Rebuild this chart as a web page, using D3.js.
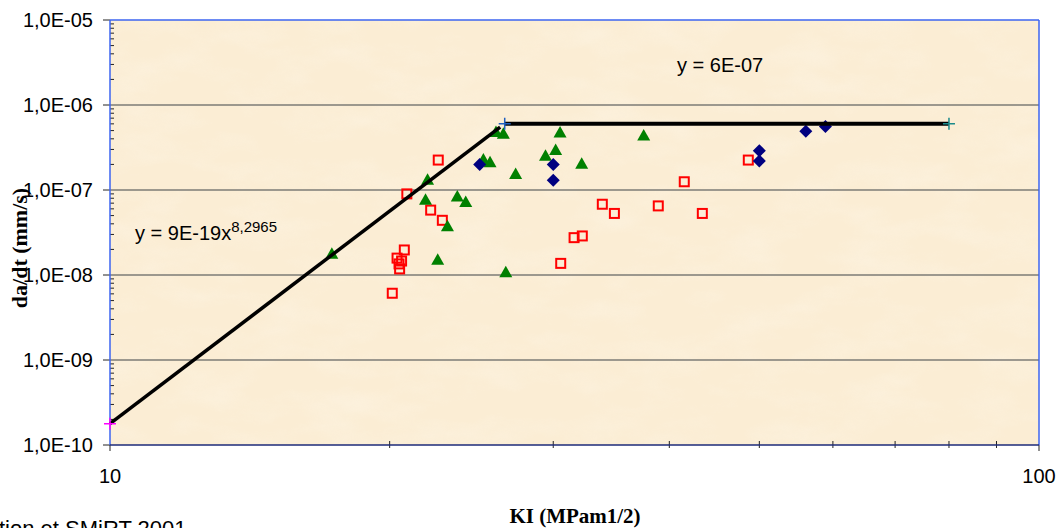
<!DOCTYPE html>
<html>
<head>
<meta charset="utf-8">
<script src="https://cdn.jsdelivr.net/npm/d3@7"></script>
<style>
  html, body { margin: 0; padding: 0; background: #fff; }
  #chart { width: 1058px; height: 528px; overflow: hidden; }
</style>
</head>
<body>
<div id="chart"></div>
<script>
// Data
const blueK    = [25.0, 30.0, 30.0, 50.0, 50.0, 56.1, 58.9];
const blueRate = [2.0e-7, 2.0e-7, 1.3e-7, 2.9e-7, 2.2e-7, 4.9e-7, 5.6e-7];

const redK    = [22.56, 20.87, 22.14, 22.79, 20.74, 20.37, 20.6, 20.47, 20.5, 20.13,
                 30.56, 31.59, 32.24, 33.88, 34.91, 38.92, 41.51, 43.41, 48.65];
const redRate = [2.25e-7, 9.0e-8, 5.8e-8, 4.4e-8, 1.97e-8, 1.58e-8, 1.46e-8, 1.35e-8, 1.18e-8, 6.1e-9,
                 1.37e-8, 2.75e-8, 2.88e-8, 6.8e-8, 5.3e-8, 6.5e-8, 1.25e-7, 5.3e-8, 2.25e-7];

const greenK    = [17.33, 21.97, 21.86, 23.65, 24.15, 23.08, 22.53, 26.67, 25.23,
                   25.65, 26.03, 26.51, 27.33, 29.43, 30.18, 30.51, 32.19, 37.54];
const greenRate = [1.8e-8, 1.34e-7, 7.8e-8, 8.5e-8, 7.3e-8, 3.8e-8, 1.53e-8, 1.09e-8, 2.32e-7,
                   2.15e-7, 4.88e-7, 4.65e-7, 1.56e-7, 2.56e-7, 3.0e-7, 4.8e-7, 2.06e-7, 4.44e-7];

// trend lines: power fit and plateau
const fitK = [10, 26.3];
const fitRate = [1.78e-10, 5.5e-7];
const plateauK = [26.6, 80];
const plateauRate = [6e-7, 6e-7];

const xTickVals = [10, 100];
const xTickLabels = ["10", "100"];
const yTickVals = [1e-10, 1e-9, 1e-8, 1e-7, 1e-6, 1e-5];
const yTickLabels = ["1,0E-10", "1,0E-09", "1,0E-08", "1,0E-07", "1,0E-06", "1,0E-05"];

// Set up dimensions
const W = 1058, H = 528;
const margin = { top: 20, right: 19, bottom: 83, left: 110 };
const width = W - margin.left - margin.right;
const height = H - margin.top - margin.bottom;

const svg = d3.select("#chart")
    .append("svg")
    .attr("width", W)
    .attr("height", H);

// paper texture filter
const defs = svg.append("defs");
const f = defs.append("filter").attr("id", "paper")
    .attr("x", 0).attr("y", 0).attr("width", 1).attr("height", 1);
f.append("feTurbulence")
    .attr("type", "fractalNoise")
    .attr("baseFrequency", "0.015 0.035")
    .attr("numOctaves", 4)
    .attr("seed", 7);
f.append("feColorMatrix")
    .attr("type", "matrix")
    .attr("values", "0 0 0 0 1  0 0 0 0 0.98  0 0 0 0 0.93  1.4 0 0 0 -0.6");

const g = svg.append("g")
    .attr("transform", `translate(${margin.left},${margin.top})`);

// Scales
const x = d3.scaleLog().domain([10, 100]).range([0, width]);
const y = d3.scaleLog().domain([1e-10, 1e-5]).range([height, 0]);

// plot background
g.append("rect")
    .attr("width", width).attr("height", height)
    .attr("fill", "#fbedd4");
g.append("rect")
    .attr("width", width).attr("height", height)
    .attr("filter", "url(#paper)")
    .attr("opacity", 0.35);

// horizontal gridlines
g.selectAll(".grid")
    .data(yTickVals.slice(1, -1))
    .join("line")
    .attr("x1", 0).attr("x2", width)
    .attr("y1", d => y(d)).attr("y2", d => y(d))
    .attr("stroke", "#7d7b76")
    .attr("stroke-width", 1.3);

// plot border (top / right)
g.append("line").attr("x1", 0).attr("x2", width).attr("y1", 0).attr("y2", 0)
    .attr("stroke", "#3c64f0").attr("stroke-width", 1.5);
g.append("line").attr("x1", width).attr("x2", width).attr("y1", 0).attr("y2", height)
    .attr("stroke", "#3c64f0").attr("stroke-width", 1.5);

// Y axis: minor ticks inside, major ticks outside
g.selectAll(".yminor")
    .data(y.ticks().filter(d => !yTickVals.some(v => Math.abs(v - d) / v < 1e-6)))
    .join("line")
    .attr("x1", 0).attr("x2", 4)
    .attr("y1", d => y(d)).attr("y2", d => y(d))
    .attr("stroke", "#222").attr("stroke-width", 1);
g.selectAll(".ymajor")
    .data(yTickVals)
    .join("line")
    .attr("x1", -7).attr("x2", 0)
    .attr("y1", d => y(d)).attr("y2", d => y(d))
    .attr("stroke", "#222").attr("stroke-width", 1);
g.append("line").attr("x1", 0).attr("x2", 0).attr("y1", 0).attr("y2", height)
    .attr("stroke", "#3c64f0").attr("stroke-width", 1.5);
g.selectAll(".ylab")
    .data(yTickVals)
    .join("text")
    .attr("x", -17)
    .attr("y", d => y(d) + 7)
    .attr("text-anchor", "end")
    .style("font-family", "'Liberation Sans', Arial, sans-serif")
    .style("font-size", "20px")
    .style("fill", "#000")
    .text((d, i) => yTickLabels[i]);

// X axis
g.selectAll(".xminor")
    .data(x.ticks().filter(d => !xTickVals.includes(d)))
    .join("line")
    .attr("x1", d => x(d)).attr("x2", d => x(d))
    .attr("y1", height - 4).attr("y2", height + 3)
    .attr("stroke", "#222").attr("stroke-width", 1);
g.selectAll(".xmajor")
    .data(xTickVals)
    .join("line")
    .attr("x1", d => x(d)).attr("x2", d => x(d))
    .attr("y1", height).attr("y2", height + 6)
    .attr("stroke", "#222").attr("stroke-width", 1);
g.append("line").attr("x1", 0).attr("x2", width).attr("y1", height).attr("y2", height)
    .attr("stroke", "#1c2a78").attr("stroke-width", 1.5);
g.selectAll(".xlab")
    .data(xTickVals)
    .join("text")
    .attr("x", d => x(d))
    .attr("y", height + 38)
    .attr("text-anchor", "middle")
    .style("font-family", "'Liberation Sans', Arial, sans-serif")
    .style("font-size", "20px")
    .text((d, i) => xTickLabels[i]);

// markers
const red = redK.map((k, i) => ({ k, r: redRate[i] }));
g.selectAll(".sq")
    .data(red)
    .join("rect")
    .attr("x", d => x(d.k) - 4.5)
    .attr("y", d => y(d.r) - 4.5)
    .attr("width", 9).attr("height", 9)
    .attr("fill", "none")
    .attr("stroke", "#ff0000")
    .attr("stroke-width", 2);

const green = greenK.map((k, i) => ({ k, r: greenRate[i] }));
g.selectAll(".tri")
    .data(green)
    .join("path")
    .attr("transform", d => `translate(${x(d.k)},${y(d.r)})`)
    .attr("d", "M0,-6L6.5,5.5L-6.5,5.5Z")
    .attr("fill", "#008000");

const blue = blueK.map((k, i) => ({ k, r: blueRate[i] }));
g.selectAll(".dia")
    .data(blue)
    .join("path")
    .attr("transform", d => `translate(${x(d.k)},${y(d.r)})`)
    .attr("d", "M0,-6.5L6.5,0L0,6.5L-6.5,0Z")
    .attr("fill", "#000080");

// trend lines
const line = d3.line().x(d => x(d[0])).y(d => y(d[1]));
g.append("path")
    .attr("d", line(fitK.map((k, i) => [k, fitRate[i]])))
    .attr("fill", "none")
    .attr("stroke", "#000")
    .attr("stroke-width", 3.5);
g.append("path")
    .attr("d", line(plateauK.map((k, i) => [k, plateauRate[i]])))
    .attr("fill", "none")
    .attr("stroke", "#000")
    .attr("stroke-width", 4);

// end markers of the trend series
function plus(px, py, color) {
    g.append("path")
        .attr("d", `M${px - 6},${py}H${px + 6}M${px},${py - 6}V${py + 6}`)
        .attr("stroke", color)
        .attr("stroke-width", 1.5);
}
plus(x(fitK[0]), y(fitRate[0]), "#ff00ff");
plus(x(plateauK[0]), y(plateauRate[0]), "#1f5fc0");
plus(x(plateauK[1]), y(plateauRate[1]), "#1a8a8a");

// equations
g.append("text")
    .attr("x", 567)
    .attr("y", 52)
    .style("font-family", "'Liberation Sans', Arial, sans-serif")
    .style("font-size", "20px")
    .text("y = 6E-07");

const eq = g.append("text")
    .attr("x", 25)
    .attr("y", 220)
    .style("font-family", "'Liberation Sans', Arial, sans-serif")
    .style("font-size", "20px");
eq.append("tspan").text("y = 9E-19x");
eq.append("tspan").attr("dy", -8).style("font-size", "15px").text("8,2965");

// axis titles
svg.append("text")
    .attr("x", 575)
    .attr("y", 523)
    .attr("text-anchor", "middle")
    .style("font-family", "'Liberation Serif', 'Times New Roman', serif")
    .style("font-weight", "bold")
    .style("font-size", "21px")
    .text("KI (MPam1/2)");

svg.append("text")
    .attr("transform", "translate(27,248) rotate(-90)")
    .attr("text-anchor", "middle")
    .style("font-family", "'Liberation Serif', 'Times New Roman', serif")
    .style("font-weight", "bold")
    .style("font-size", "22px")
    .text("da/dt (mm/s)");

// source note, cut by the bottom edge as in the original
svg.append("text")
    .attr("x", -1)
    .attr("y", 536)
    .style("font-family", "'Liberation Sans', Arial, sans-serif")
    .style("font-size", "22px")
    .text("tion et SMiRT 2001");
</script>
</body>
</html>
